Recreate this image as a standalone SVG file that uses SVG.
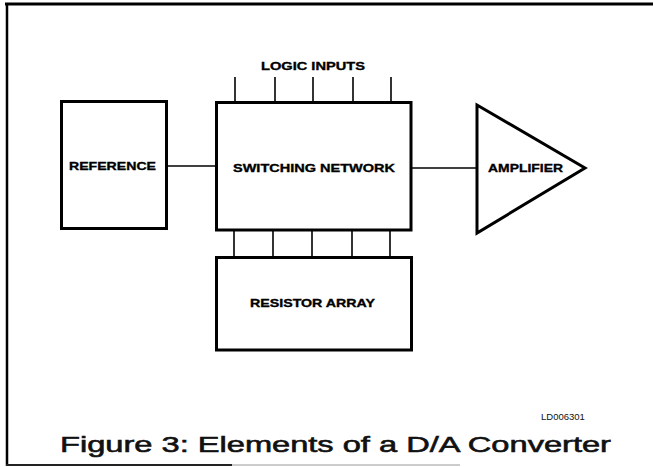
<svg xmlns="http://www.w3.org/2000/svg" width="653" height="467" viewBox="0 0 653 467">
<style>
.box{fill:none;stroke:#000;stroke-width:3}
.wire{fill:none;stroke:#000;stroke-width:1.6}
.lbl{font-family:"Liberation Sans",Arial,sans-serif;font-weight:bold;font-size:10px;fill:#000;stroke:#000;stroke-width:0.3}
.cap{font-family:"Liberation Sans",Arial,sans-serif;font-size:22px;fill:#111;stroke:#111;stroke-width:0.6}
.code{font-family:"Liberation Sans",Arial,sans-serif;font-size:9.5px;fill:#111}
</style>
<rect width="653" height="467" fill="#fff"/>
<g id="frame">
<line x1="5" y1="4" x2="653" y2="4" stroke="#000" stroke-width="3"/>
<line x1="7" y1="3" x2="7" y2="466" stroke="#000" stroke-width="2.5"/>
<line x1="6" y1="465" x2="232" y2="465" stroke="#222" stroke-width="2"/>
<line x1="232" y1="465" x2="460" y2="465" stroke="#bbb" stroke-width="1.5"/>
</g>
<g id="connectors">
<line class="wire" x1="167" y1="166" x2="216" y2="166"/>
<line class="wire" x1="411" y1="168" x2="477" y2="168"/>
<line class="wire" x1="235" y1="77" x2="235" y2="102"/>
<line class="wire" x1="275" y1="77" x2="275" y2="102"/>
<line class="wire" x1="313" y1="77" x2="313" y2="102"/>
<line class="wire" x1="353" y1="77" x2="353" y2="102"/>
<line class="wire" x1="391" y1="77" x2="391" y2="102"/>
<line class="wire" x1="234" y1="230" x2="234" y2="257"/>
<line class="wire" x1="273" y1="230" x2="273" y2="257"/>
<line class="wire" x1="312" y1="230" x2="312" y2="257"/>
<line class="wire" x1="352" y1="230" x2="352" y2="257"/>
<line class="wire" x1="390" y1="230" x2="390" y2="257"/>
</g>
<g id="logic-inputs">
<text class="lbl" x="313" y="69.5" text-anchor="middle" textLength="104" lengthAdjust="spacingAndGlyphs">LOGIC INPUTS</text>
</g>
<g id="reference">
<rect class="box" x="61.5" y="101.5" width="105" height="127"/>
<text class="lbl" x="112.5" y="170" text-anchor="middle" textLength="87" lengthAdjust="spacingAndGlyphs">REFERENCE</text>
</g>
<g id="switching-network">
<rect class="box" x="216.5" y="102.5" width="194.5" height="127.5"/>
<text class="lbl" x="314" y="172" text-anchor="middle" textLength="162" lengthAdjust="spacingAndGlyphs">SWITCHING NETWORK</text>
</g>
<g id="resistor-array">
<rect class="box" x="216.5" y="257.5" width="195" height="92.5"/>
<text class="lbl" x="312.5" y="306.5" text-anchor="middle" textLength="125" lengthAdjust="spacingAndGlyphs">RESISTOR ARRAY</text>
</g>
<g id="amplifier">
<polygon class="box" points="477,105 585,168 477,233"/>
<text class="lbl" x="525.5" y="172" text-anchor="middle" textLength="75" lengthAdjust="spacingAndGlyphs">AMPLIFIER</text>
</g>
<g id="caption">
<text class="code" x="541" y="420">LD006301</text>
<text class="cap" x="60" y="452" textLength="551" lengthAdjust="spacingAndGlyphs">Figure 3: Elements of a D/A Converter</text>
</g>
</svg>
